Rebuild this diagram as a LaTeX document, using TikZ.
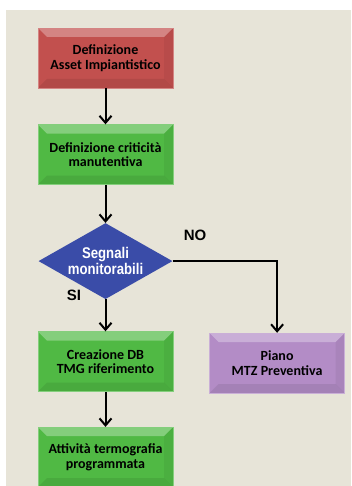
\documentclass[tikz,border=0pt]{standalone}
\usepackage{fontspec}
\setmainfont{Carlito}
\newfontfamily\labelfont{Liberation Sans}
\newfontfamily\narrowfont{Liberation Sans}[UprightFont={* Bold},FakeStretch=0.85]
\usepackage{tikz}
\usetikzlibrary{positioning,shapes.geometric,arrows.meta}
\definecolor{bgbeige}{HTML}{E7E4D8}
\definecolor{assetred}{HTML}{C2504E}
\definecolor{stepgreen}{HTML}{50B944}
\definecolor{planviolet}{HTML}{B38CC6}
\definecolor{testblue}{HTML}{3A4CA8}

\begin{document}
\begin{tikzpicture}[
		x=1pt,y=1pt,
		block/.style={
			rectangle,
			fill=#1,
			draw=#1!70!white,
			line width=0.6pt,
			minimum width=135pt,
			minimum height=60pt,
			inner sep=2pt,
			align=center,
			font=\bfseries\fontsize{14}{14.5}\selectfont,
			path picture={
				\fill[white,opacity=0.3] (path picture bounding box.north west) -- (path picture bounding box.north east) -- ([xshift=-9pt,yshift=-9pt]path picture bounding box.north east) -- ([xshift=9pt,yshift=-9pt]path picture bounding box.north west) -- cycle;
				\fill[black,opacity=0.08] (path picture bounding box.south west) -- (path picture bounding box.south east) -- ([xshift=-9pt,yshift=9pt]path picture bounding box.south east) -- ([xshift=9pt,yshift=9pt]path picture bounding box.south west) -- cycle;
				\fill[black,opacity=0.05] (path picture bounding box.north east) -- (path picture bounding box.south east) -- ([xshift=-9pt,yshift=9pt]path picture bounding box.south east) -- ([xshift=-9pt,yshift=-9pt]path picture bounding box.north east) -- cycle;
			}
		},
		decision/.style={
			diamond,
			aspect=1.76,
			fill=testblue,
			minimum width=134pt,
			minimum height=76pt,
			inner sep=0pt,
			align=center,
			text=white,
			font=\narrowfont\fontsize{15.5}{14}\selectfont
		},
		answer/.style={
			font=\labelfont\bfseries\fontsize{15}{15}\selectfont
		},
		flow/.style={
			-{Straight Barb[length=7pt,width=12pt,line width=2pt]},
			line width=2pt
		},
		node distance=36pt
		]
		
		\useasboundingbox (0,0) rectangle (351,-486);
		\fill[bgbeige] (6,-10) rectangle (351,-486);
		
		\node[block=assetred] at (105.5,-58)
		(asset) {Definizione\\Asset Impiantistico};
		
		\node[block=stepgreen, below=of asset]
		(crit) {Definizione criticità\\manutentiva};
		
		\node[decision, below=38pt of crit]
		(signal) {Segnali\\monitorabili};
		
		\node[block=stepgreen, below=32pt of signal]
		(dbase) {Creazione DB\\TMG riferimento};
		
		\node[block=stepgreen, below=35pt of dbase]
		(thermo) {Attività termografia\\programmata};
		
		\node[block=planviolet, right=36pt of dbase, yshift=-1.5pt]
		(plan) {Piano\\MTZ Preventiva};
		
		\node[answer] at (195,-235) (no) {NO};
		\node[answer] at (74,-295) (si) {SI};
		
		\draw[flow] (asset) -- (crit);
		\draw[flow] (crit) -- (signal);
		\draw[flow] (signal) -- (dbase);
		\draw[flow] (dbase) -- (thermo);
		\draw[flow] (signal.east) -| (plan.north);

		
		\end{tikzpicture}
\end{document}
